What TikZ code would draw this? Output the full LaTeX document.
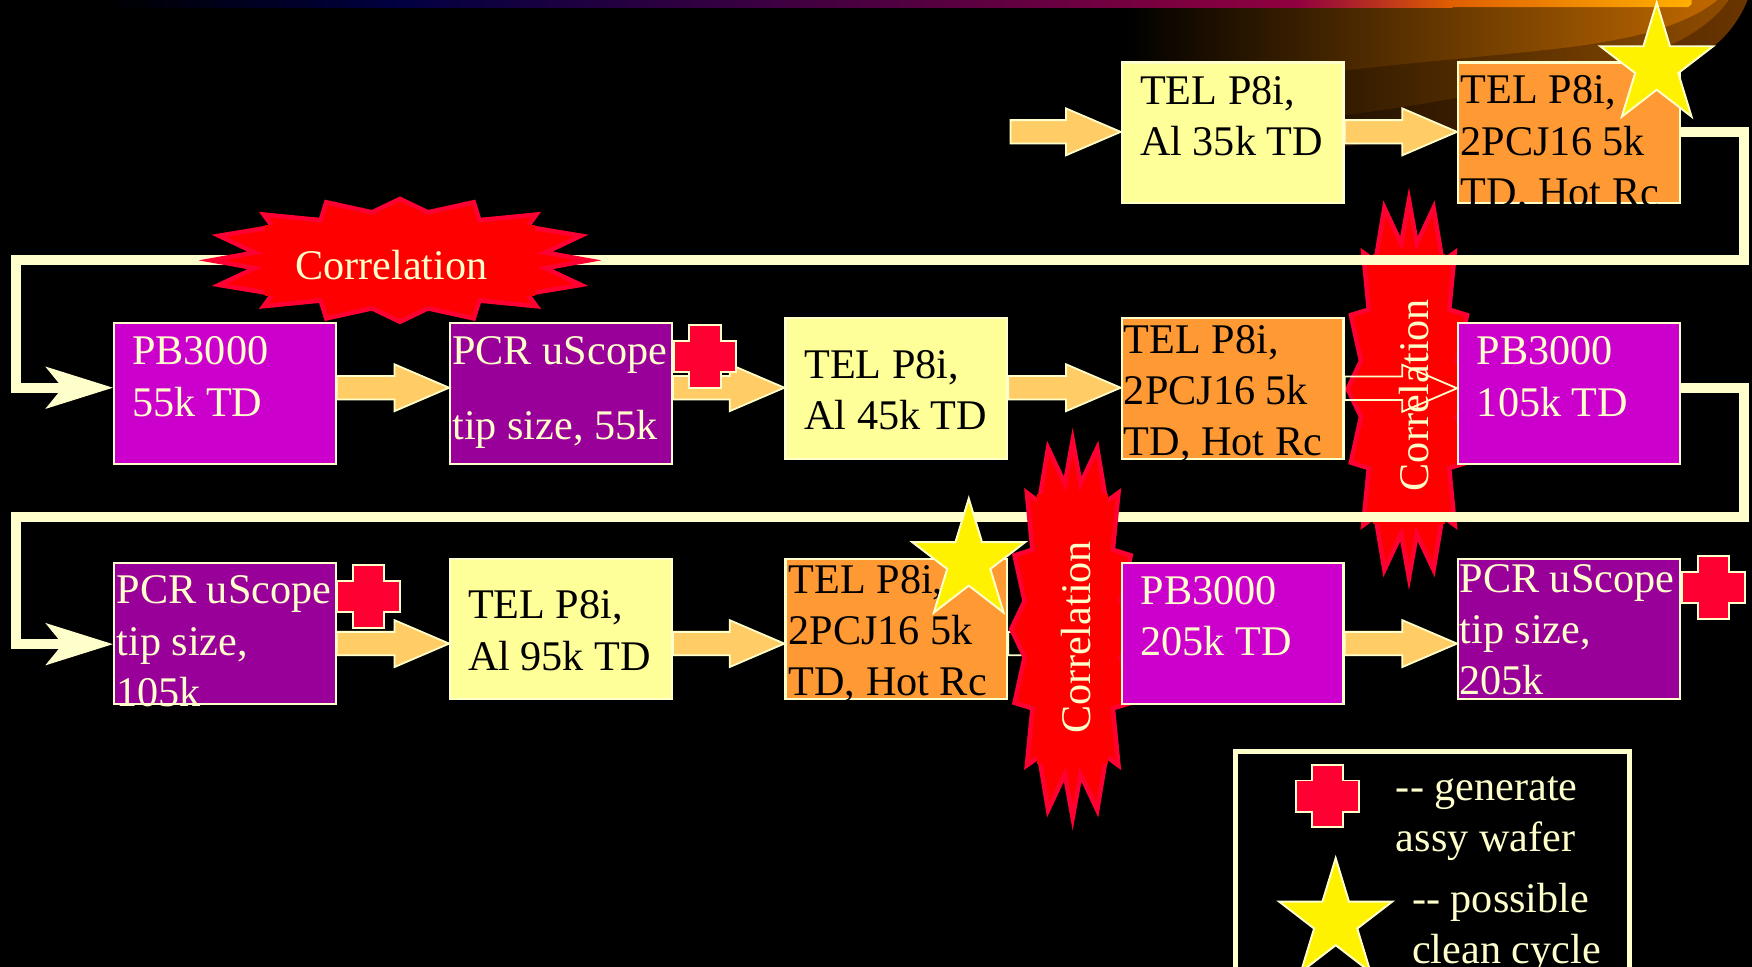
\documentclass[tikz,border=0pt]{standalone}
\usepackage{fontspec}
\setmainfont{Liberation Serif}
\usepackage{xcolor}
\usepackage{tikz}
\usetikzlibrary{calc}
\definecolor{cream}{HTML}{FFFFCC}
\definecolor{lemon}{HTML}{FFFF99}
\definecolor{amber}{HTML}{FF9933}
\definecolor{orchid}{HTML}{CC00CC}
\definecolor{plum}{HTML}{990099}
\definecolor{peach}{HTML}{FFCC66}
\definecolor{crimson}{HTML}{FF0033}
\definecolor{bandnavy}{HTML}{000040}
\definecolor{bandwine}{HTML}{900040}
\definecolor{bandrust}{HTML}{E06000}
\definecolor{bandgold}{HTML}{FFB000}
\definecolor{swa}{HTML}{8A4A00}
\definecolor{swb}{HTML}{C06800}
\definecolor{swc}{HTML}{5A3000}
\definecolor{swd}{HTML}{8F4C00}
\definecolor{swe}{HTML}{3A1D00}
\definecolor{swf}{HTML}{6A3500}
\pgfdeclarelayer{under}
\pgfsetlayers{under,main}
\tikzset{
  bx/.style={rectangle,draw=cream,line width=1.1pt,minimum width=3.97cm,minimum height=2.52cm,inner sep=0pt,anchor=north west},
  telbx/.style={bx,fill=lemon},
  hotbx/.style={bx,fill=amber},
  pbbx/.style={bx,fill=orchid},
  pcrbx/.style={bx,fill=plum},
  txt/.style={anchor=north west,inner sep=0pt,align=left,font=\fontsize{21.5}{26.1}\selectfont},
  dk/.style={txt,text=black},
  lt/.style={txt,text=cream},
  corr/.style={anchor=base west,inner sep=0pt,text=cream,font=\fontsize{21.5}{26.1}\selectfont},
  flow/.style={draw=cream,line width=0.9pt,fill=peach},
  hollow/.style={draw=cream,line width=0.9pt},
  route/.style={draw=cream,line width=0.18cm},
  crossmk/.style={draw=cream,line width=1pt,fill=crimson},
  starmk/.style={draw=cream,line width=1pt,fill=yellow},
  burst/.style={draw=crimson,line width=0.08cm,fill=red},
}
\newcommand{\flowarrow}[4]{%
  \coordinate (s) at (#2.east |- 0,#4);
  \coordinate (t) at (#3.west |- 0,#4);
  \draw[#1] ($(s)+(0,-10.5)$)--($(t)+(-49,-10.5)$)--($(t)+(-49,-21)$)--(t)--($(t)+(-49,21)$)--($(t)+(-49,10.5)$)--($(s)+(0,10.5)$)--cycle;}
\newcommand{\crossmark}[2]{%
  \draw[crossmk,shift={(#1,#2)}] (-14,-28)--(14,-28)--(14,-14)--(28,-14)--(28,14)--(14,14)--(14,28)--(-14,28)--(-14,14)--(-28,14)--(-28,-14)--(-14,-14)--cycle;}
\newcommand{\starmark}[2]{%
  \draw[starmk,shift={(#1,#2)}] (0,-56.4)--(11.9,-17.4)--(50.5,-17.4)--(19.3,6.6)--(31.2,45.6)--(0,21.5)--(-31.2,45.6)--(-19.3,6.6)--(-50.5,-17.4)--(-11.9,-17.4)--cycle;}
\newcommand{\routetip}[1]{%
  \fill[cream] (#1)--($(#1)+(-60.5,19)$)--($(#1)+(-45,0)$)--($(#1)+(-60.5,-19)$)--cycle;}
\newcommand{\burstmark}[3]{%
  \begin{scope}[shift={(#1,#2)},rotate=#3]
  \draw[burst] (-169,0)--(-130,-7)--(-162,-22)--(-114,-30)--(-122,-41)--(-71,-36)--(-66,-52)--(-25,-43)--(0,-55)--(25,-43)--(66,-52)--(71,-36)--(122,-41)--(114,-30)--(162,-22)--(130,-7)--(169,0)--(130,7)--(162,22)--(114,30)--(122,41)--(71,36)--(66,52)--(25,43)--(0,55)--(-25,43)--(-66,52)--(-71,36)--(-122,41)--(-114,30)--(-162,22)--(-130,7)--cycle;
  \fill[red] (-121,-32) rectangle (121,32);
  \end{scope}}

\begin{document}
\begin{tikzpicture}[x=0.02cm,y=-0.02cm]
\useasboundingbox (0,0) rectangle (1568,865.4);
\clip (0,0) rectangle (1568,865.4);
% process boxes, row by row
\node[telbx] (tel1) at (1003,55) {};
\node[hotbx] (hot1) at (1304,55) {};
\node[pbbx] (pb1) at (101,288) {};
\node[pcrbx] (pcr1) at (402,288) {};
\node[telbx] (tel2) at (702,284) {};
\node[hotbx] (hot2) at (1003,284) {};
\node[pbbx] (pb2) at (1304,288) {};
\node[pcrbx] (pcr2) at (101,503) {};
\node[telbx] (tel3) at (402,499) {};
\node[hotbx] (hot3) at (702,499) {};
\node[pbbx] (pb3) at (1003,503) {};
\node[pcrbx] (pcr3) at (1304,499) {};
\node[inner sep=0pt,minimum size=0pt] (feed) at (904,118) {};
% everything that lies behind the boxes
\begin{pgfonlayer}{under}
\fill[black] (0,0) rectangle (1568,865.4);
\shade[left color=black,middle color=swe,right color=swf] (1007,0)--(1007,137)--(1204,131) .. controls (1340,115) and (1470,85) .. (1533,42) .. controls (1548,30) and (1558,15) .. (1564,0)--cycle;
\shade[left color=black,middle color=swc,right color=swd] (1007,0)--(1007,115)--(1204,103) .. controls (1320,88) and (1440,62) .. (1498,39) .. controls (1520,28) and (1537,15) .. (1547,0)--cycle;
\shade[left color=black,middle color=swa,right color=swb] (1007,0)--(1007,75)--(1204,63) .. controls (1300,52) and (1400,45) .. (1438,37) .. controls (1480,30) and (1515,18) .. (1537,0)--cycle;
\shade[left color=bandrust,right color=bandgold] (1300,0)--(1514,0)--(1514,3.5)--(1511,6.3)--(1300,6.3)--cycle;
\foreach \xa/\xb/\ca/\cb in {90/352/black/bandnavy,352/1160/bandnavy/bandwine,1160/1300/bandwine/bandrust}{%
  \shade[left color=\ca,right color=\cb] (\xa,0) rectangle (\xb,6.3);}
\burstmark{1261}{348}{90}
\coordinate (r1a) at (1561,118.5);
\coordinate (r1b) at (1561,232.5);
\coordinate (r1c) at (14.5,232.5);
\coordinate (r1d) at (14.5,347);
\coordinate (r2a) at (1561,347.5);
\coordinate (r2b) at (1561,462.5);
\coordinate (r2c) at (14.5,462.5);
\coordinate (r2d) at (14.5,576.5);
\coordinate (tip1) at (pb1.west |- r1d);
\coordinate (tip2) at (pcr2.west |- r2d);
\draw[route] (hot1.east |- r1a)--(r1a)--(r1b)--(r1c)--(r1d)--($(tip1)+(-40,0)$);
\draw[route] (pb2.east |- r2a)--(r2a)--(r2b)--(r2c)--(r2d)--($(tip2)+(-40,0)$);
\routetip{tip1}
\routetip{tip2}
\flowarrow{hollow}{hot2}{pb2}{347.5}
\flowarrow{hollow}{hot3}{pb3}{576}
\burstmark{358}{233}{0}
\burstmark{960}{563}{90}
\end{pgfonlayer}
% flow between boxes
\flowarrow{flow}{feed}{tel1}{118}
\flowarrow{flow}{tel1}{hot1}{118}
\flowarrow{flow}{pb1}{pcr1}{347}
\flowarrow{flow}{pcr1}{tel2}{347}
\flowarrow{flow}{tel2}{hot2}{347}
\flowarrow{flow}{pcr2}{tel3}{576}
\flowarrow{flow}{tel3}{hot3}{576}
\flowarrow{flow}{pb3}{pcr3}{576}
% box texts
\node[dk] (tel1t) at (1020,68) {TEL P8i,\\Al 35k TD};
\begin{scope}
\clip (hot1.north west) rectangle (hot1.south east);
\node[dk] (hot1t) at (1307,67.5) {TEL P8i,\\2PCJ16 5k\\TD, Hot Rc};
\end{scope}
\node[lt] (pb1t) at (118,301) {PB3000\\55k TD};
\node[lt] (pcr1t) at (404.5,301) {PCR uScope\\[0.42cm]tip size, 55k};
\node[dk] (tel2t) at (719.5,313.5) {TEL P8i,\\Al 45k TD};
\node[dk] (hot2t) at (1005.5,290.5) {TEL P8i,\\2PCJ16 5k\\TD, Hot Rc};
\node[lt] (pb2t) at (1321.5,301) {PB3000\\105k TD};
\node[lt] (pcr2t) at (104,515) {PCR uScope\\tip size,\\105k};
\node[dk] (tel3t) at (418.5,528.5) {TEL P8i,\\Al 95k TD};
\node[dk] (hot3t) at (705.5,505.5) {TEL P8i,\\2PCJ16 5k\\TD, Hot Rc};
\node[lt] (pb3t) at (1020.5,515.5) {PB3000\\205k TD};
\node[lt] (pcr3t) at (1306,504.5) {PCR uScope\\tip size,\\205k};
% correlation labels
\node[corr] (corr1) at (264,250) {Correlation};
\node[corr,rotate=90] (corr2) at (1278.6,440) {Correlation};
\node[corr,rotate=90] (corr3) at (976,656.6) {Correlation};
% marks
\crossmark{631}{319}
\crossmark{330}{534}
\crossmark{1533.5}{526}
\starmark{1482.7}{58.8}
\starmark{867}{502.6}
% key
\draw[draw=cream,line width=0.09cm] (1105.5,672.5) rectangle (1458.5,900);
\crossmark{1188}{712.5}
\starmark{1195.4}{824.4}
\node[lt] (key1) at (1249,695) {{-}{-} generate\\assy wafer};
\node[lt] (key2) at (1263.5,790) {{-}{-} possible\\clean cycle};
\end{tikzpicture}
\end{document}
